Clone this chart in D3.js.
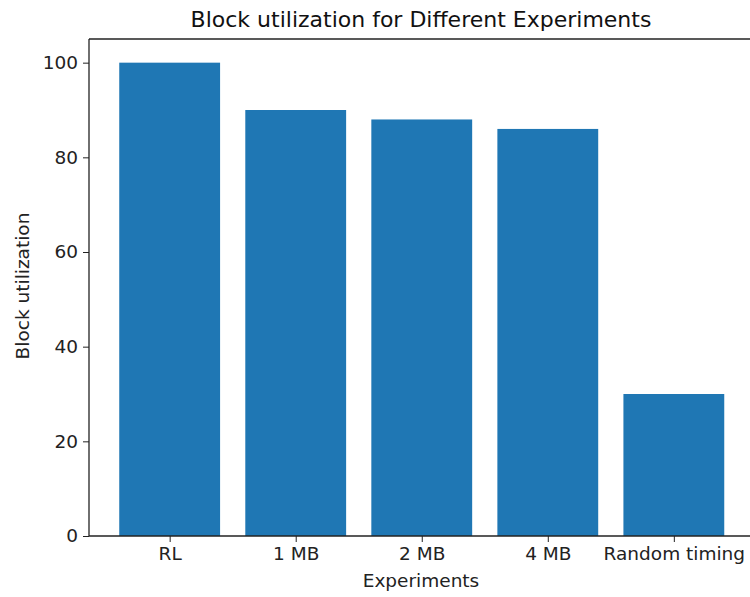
<!DOCTYPE html>
<html><head><meta charset="utf-8">
<script src="https://cdn.jsdelivr.net/npm/d3@7"></script>
<style>body{margin:0;background:#fff;}svg{display:block;font-family:"DejaVu Sans",sans-serif;}</style>
</head><body><svg id="c" width="750" height="597"></svg>
<script>
const categories = ["RL", "1 MB", "2 MB", "4 MB", "Random timing"];
const values = [100, 90, 88, 86, 30];
const yTicks = [0, 20, 40, 60, 80, 100];

(function () {
const svg = d3.select("#c");
const mLeft = 89, mRight = 754.5, mTop = 39, mBottom = 536;
const x = d3.scaleLinear().domain([-0.64, categories.length - 1 + 0.64]).range([mLeft, mRight]);
const y = d3.scaleLinear().domain([0, 105]).range([mBottom, mTop]);
const bw = 0.8;

svg.append("g").selectAll("rect").data(values).join("rect")
  .attr("x", (d, i) => x(i - bw / 2))
  .attr("width", (d, i) => x(i + bw / 2) - x(i - bw / 2))
  .attr("y", d => y(d))
  .attr("height", d => y(0) - y(d))
  .attr("fill", "#1f77b4");

const yAxis = svg.append("g").attr("transform", `translate(${mLeft},0)`)
  .call(d3.axisLeft(y).tickValues(yTicks).tickSize(6).tickPadding(5).tickSizeOuter(0));
const xAxis = svg.append("g").attr("transform", `translate(0,${mBottom})`)
  .call(d3.axisBottom(x).tickValues(d3.range(categories.length)).tickFormat(i => categories[i]).tickSize(6).tickPadding(5).tickSizeOuter(0));
[yAxis, xAxis].forEach(g => {
  g.selectAll("text").attr("font-size", 18.5).attr("font-family", "DejaVu Sans").attr("fill", "#222");
  g.selectAll("line").attr("stroke", "#222");
  g.select(".domain").remove();
});
svg.append("line").attr("x1", mLeft).attr("x2", mLeft).attr("y1", mTop).attr("y2", mBottom).attr("stroke", "#222").attr("stroke-width", 1.3);
svg.append("line").attr("x1", mLeft).attr("x2", mRight).attr("y1", mBottom).attr("y2", mBottom).attr("stroke", "#222").attr("stroke-width", 1.3);
svg.append("line").attr("x1", mLeft).attr("x2", mRight).attr("y1", mTop).attr("y2", mTop).attr("stroke", "#222").attr("stroke-width", 1.3);

svg.append("text").attr("x", 421).attr("y", 27).attr("text-anchor", "middle")
  .attr("font-size", 22).attr("fill", "#111").text("Block utilization for Different Experiments");
svg.append("text").attr("x", 421).attr("y", 587).attr("text-anchor", "middle")
  .attr("font-size", 18.5).attr("fill", "#222").text("Experiments");
svg.append("text").attr("transform", "translate(29,286) rotate(-90)").attr("text-anchor", "middle")
  .attr("font-size", 18.5).attr("fill", "#222").text("Block utilization");
})();
</script></body></html>
